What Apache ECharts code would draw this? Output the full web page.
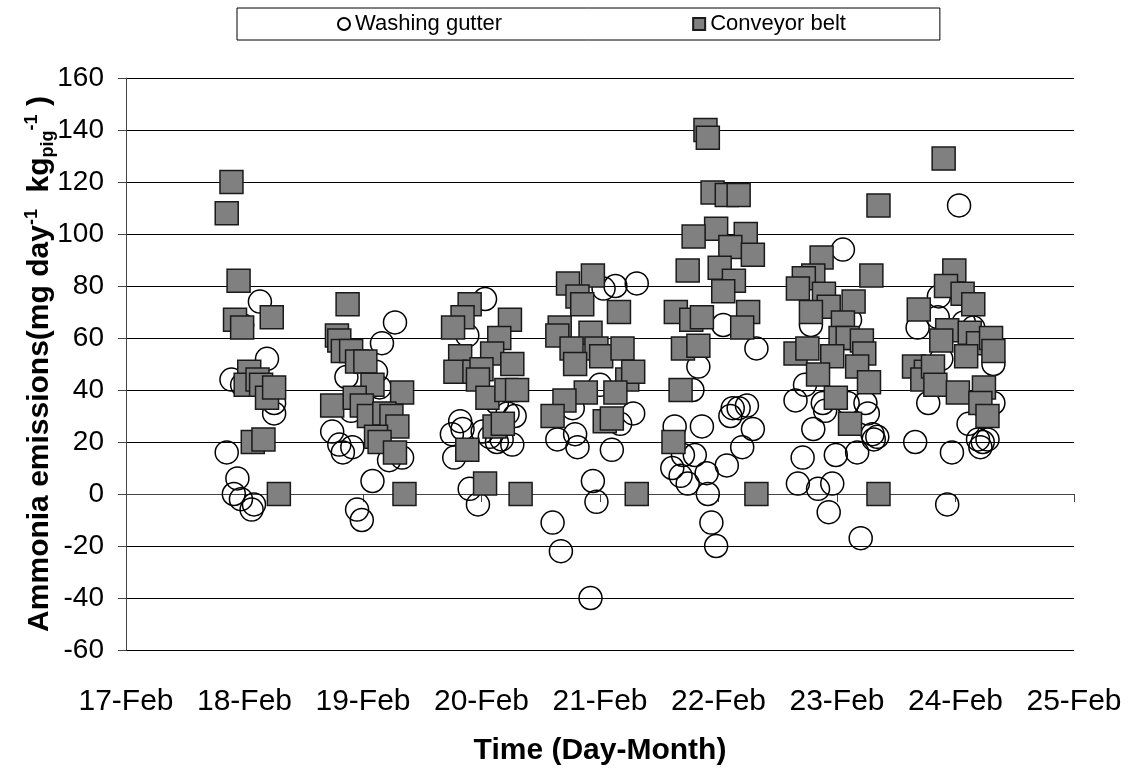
<!DOCTYPE html>
<html>
<head>
<meta charset="utf-8">
<script src="https://cdn.jsdelivr.net/npm/echarts@6/dist/echarts.min.js"></script>
<style>
  html, body { margin: 0; padding: 0; background: #fff; }
  #chart { width: 1131px; height: 769px; }
</style>
</head>
<body>
<div id="chart"></div>
<script>
// x = time in days (17 = 17-Feb 00:00), y = mg day-1 kg_pig-1
var xTickLabels = ['17-Feb', '18-Feb', '19-Feb', '20-Feb', '21-Feb', '22-Feb', '23-Feb', '24-Feb', '25-Feb'];

var washingGutter = [
    // 18-Feb
    [18.13, 74], [17.98, 65], [18.19, 52], [17.89, 44], [17.98, 42], [18.25, 31], [18.25, 35],
    [17.85, 16], [17.94, 6], [17.91, 0], [17.97, -2], [18.08, -4], [18.06, -6],
    // 19-Feb
    [19.27, 66], [19.16, 58], [18.86, 45], [19.11, 47], [19.14, 41], [18.90, 32], [18.74, 24],
    [18.80, 19], [18.83, 16], [18.91, 18], [19.22, 13], [19.33, 14], [19.08, 5], [18.95, -6], [18.99, -10],
    // 20-Feb
    [20.03, 75], [19.88, 61], [19.82, 28], [19.75, 23], [19.84, 25], [19.77, 14], [20.01, 24],
    [20.07, 22], [20.13, 20], [20.17, 21], [20.26, 19], [20.22, 31], [20.28, 30], [19.90, 2],
    [19.97, -4], [20.13, 35],
    // 21-Feb
    [21.13, 80], [21.31, 81], [21.03, 79], [21.28, 31], [21.17, 27], [20.77, 33], [20.64, 21],
    [20.79, 23], [20.81, 18], [21.10, 17], [20.94, 5], [20.97, -3], [20.60, -11], [20.67, -22],
    [20.92, -40], [21.00, 42],
    // 22-Feb
    [22.04, 65], [22.32, 56], [21.83, 49], [21.78, 40], [22.12, 33], [22.17, 33], [22.24, 34],
    [22.10, 30], [22.29, 25], [21.63, 26], [21.86, 26], [22.20, 18], [21.70, 15], [21.80, 15],
    [22.07, 11], [21.61, 10], [21.68, 7], [21.74, 4], [21.90, 8], [21.91, 0], [21.94, -11], [21.98, -20],
    // 23-Feb
    [23.05, 94], [22.78, 65], [23.11, 67], [22.73, 42], [22.65, 36], [22.88, 35], [22.90, 32],
    [23.09, 35], [23.24, 35], [23.26, 31], [22.80, 25], [23.30, 23], [23.34, 22], [23.31, 21],
    [22.71, 14], [22.99, 15], [23.17, 16], [22.67, 4], [22.84, 2], [22.96, 4], [22.93, -7], [23.20, -17],
    // 24-Feb
    [24.03, 111], [23.86, 76], [23.85, 68], [23.68, 64], [24.07, 66], [24.15, 64], [24.32, 50],
    [23.77, 35], [24.32, 35], [24.11, 27], [23.66, 20], [23.97, 16], [24.19, 21], [24.23, 20],
    [24.27, 21], [24.21, 18], [23.93, -4], [23.88, 52]
];

var conveyorBelt = [
    // 18-Feb
    [17.89, 120], [17.85, 108], [17.95, 82], [17.92, 67], [17.98, 64], [18.23, 68], [18.04, 47],
    [18.01, 42], [18.11, 44], [18.14, 42], [18.19, 37], [18.25, 41], [18.07, 20], [18.16, 21], [18.29, 0],
    // 19-Feb
    [18.87, 73], [18.78, 61], [18.80, 59], [18.83, 55], [18.90, 55], [18.95, 51], [19.02, 51],
    [19.08, 42], [19.33, 39], [18.74, 34], [18.93, 37], [18.99, 34], [19.05, 30], [19.18, 31],
    [19.24, 30], [19.29, 26], [19.11, 22], [19.14, 20], [19.27, 16], [19.35, 0],
    // 20-Feb
    [19.90, 73], [19.84, 68], [19.76, 64], [20.24, 67], [20.15, 60], [19.82, 53], [19.78, 47],
    [20.09, 54], [20.26, 50], [19.94, 47], [20.00, 48], [19.97, 44], [20.05, 37], [20.21, 40],
    [20.30, 40], [20.11, 26], [20.18, 27], [19.88, 17], [20.03, 4], [20.33, 0],
    // 21-Feb
    [20.94, 84], [20.73, 81], [20.81, 76], [20.85, 73], [21.16, 70], [20.66, 64], [20.64, 61],
    [20.92, 62], [20.76, 56], [20.97, 56], [21.01, 53], [21.19, 56], [20.79, 50], [21.23, 44],
    [21.28, 47], [20.88, 39], [20.70, 36], [21.13, 39], [20.60, 30], [21.04, 28], [21.10, 29], [21.31, 0],
    // 22-Feb
    [21.89, 140], [21.91, 137], [21.95, 116], [22.07, 115], [22.17, 115], [21.98, 102], [21.79, 99],
    [22.23, 100], [22.10, 95], [22.29, 92], [22.01, 87], [21.74, 86], [22.13, 82], [22.04, 78],
    [21.64, 70], [21.77, 67], [21.86, 68], [22.25, 70], [22.20, 64], [21.70, 56], [21.83, 57],
    [21.68, 40], [21.62, 20], [22.32, 0],
    // 23-Feb
    [23.35, 111], [22.87, 91], [23.29, 84], [22.80, 84], [22.72, 83], [22.67, 79], [22.89, 77],
    [23.14, 74], [22.93, 72], [22.78, 70], [23.05, 66], [23.03, 60], [23.09, 60], [23.21, 59],
    [23.23, 54], [22.65, 54], [22.75, 56], [22.96, 53], [23.17, 49], [22.84, 46], [23.27, 43],
    [22.99, 37], [23.11, 27], [23.35, 0],
    // 24-Feb
    [23.90, 129], [23.99, 86], [23.92, 80], [24.06, 77], [24.15, 73], [23.69, 71], [23.93, 63],
    [23.88, 59], [24.12, 62], [24.19, 58], [24.30, 60], [24.32, 55], [24.09, 53], [23.65, 49],
    [23.75, 47], [23.72, 44], [23.81, 49], [23.83, 42], [24.02, 39], [24.24, 41], [24.21, 35], [24.27, 30]
];

var font = '"Liberation Sans", Arial, sans-serif';

var myChart = echarts.init(document.getElementById('chart'));

var option = {
    animation: false,
    textStyle: { fontFamily: font, color: '#000' },
    legend: {
        left: 237,
        top: 8,
        padding: [5, 94, 5, 100],
        itemGap: 190,
        itemWidth: 12,
        itemHeight: 12,
        borderColor: '#000',
        borderWidth: 1,
        textStyle: { fontSize: 22, color: '#000', fontFamily: font },
        data: [
            { name: 'Washing gutter', icon: 'circle' },
            { name: 'Conveyor belt', icon: 'rect' }
        ]
    },
    grid: {
        left: 126,
        right: 57,
        top: 78,
        bottom: 119,
        outerBoundsMode: 'none'
    },
    xAxis: {
        type: 'value',
        min: 17,
        max: 25,
        interval: 1,
        name: 'Time (Day-Month)',
        nameLocation: 'middle',
        nameGap: 86,
        nameMoveOverlap: false,
        nameTextStyle: { fontSize: 30, fontWeight: 'bold', color: '#000', fontFamily: font },
        axisLine: { show: true, lineStyle: { color: '#444', width: 1 } },
        axisTick: { show: true, length: 8, lineStyle: { color: '#444' } },
        splitLine: { show: false },
        axisLabel: {
            fontSize: 30,
            color: '#000',
            margin: 37,
            formatter: function (v) { return xTickLabels[Math.round(v - 17)]; }
        }
    },
    yAxis: {
        type: 'value',
        min: -60,
        max: 160,
        interval: 20,
        name: '{t|Ammonia emissions(mg day}{sup|-1}{t|  kg}{sub|pig}{sup|-1}{t| )}',
        nameLocation: 'middle',
        nameRotate: 90,
        nameGap: 69,
        nameMoveOverlap: false,
        nameTextStyle: {
            rich: {
                t: { fontSize: 30, fontWeight: 'bold', color: '#000', fontFamily: font, lineHeight: 34 },
                sup: { fontSize: 18, fontWeight: 'bold', color: '#000', fontFamily: font, verticalAlign: 'top', lineHeight: 34 },
                sub: { fontSize: 18, fontWeight: 'bold', color: '#000', fontFamily: font, verticalAlign: 'bottom', lineHeight: 34 }
            }
        },
        axisLine: { show: true, lineStyle: { color: '#444', width: 1 } },
        axisTick: { show: true, length: 8, lineStyle: { color: '#444' } },
        splitLine: { show: true, lineStyle: { color: '#000', width: 1 } },
        axisLabel: { fontSize: 28, color: '#000', margin: 22 }
    },
    series: [
        {
            name: 'Washing gutter',
            type: 'scatter',
            symbol: 'circle',
            symbolSize: 23,
            data: washingGutter,
            itemStyle: { color: 'rgba(255,255,255,0)', borderColor: '#000', borderWidth: 1.5, opacity: 1 }
        },
        {
            name: 'Conveyor belt',
            type: 'scatter',
            symbol: 'rect',
            symbolSize: 23,
            data: conveyorBelt,
            itemStyle: { color: '#808080', borderColor: '#1a1a1a', borderWidth: 1.5, opacity: 1 }
        }
    ]
};

myChart.setOption(option);
</script>
</body>
</html>
